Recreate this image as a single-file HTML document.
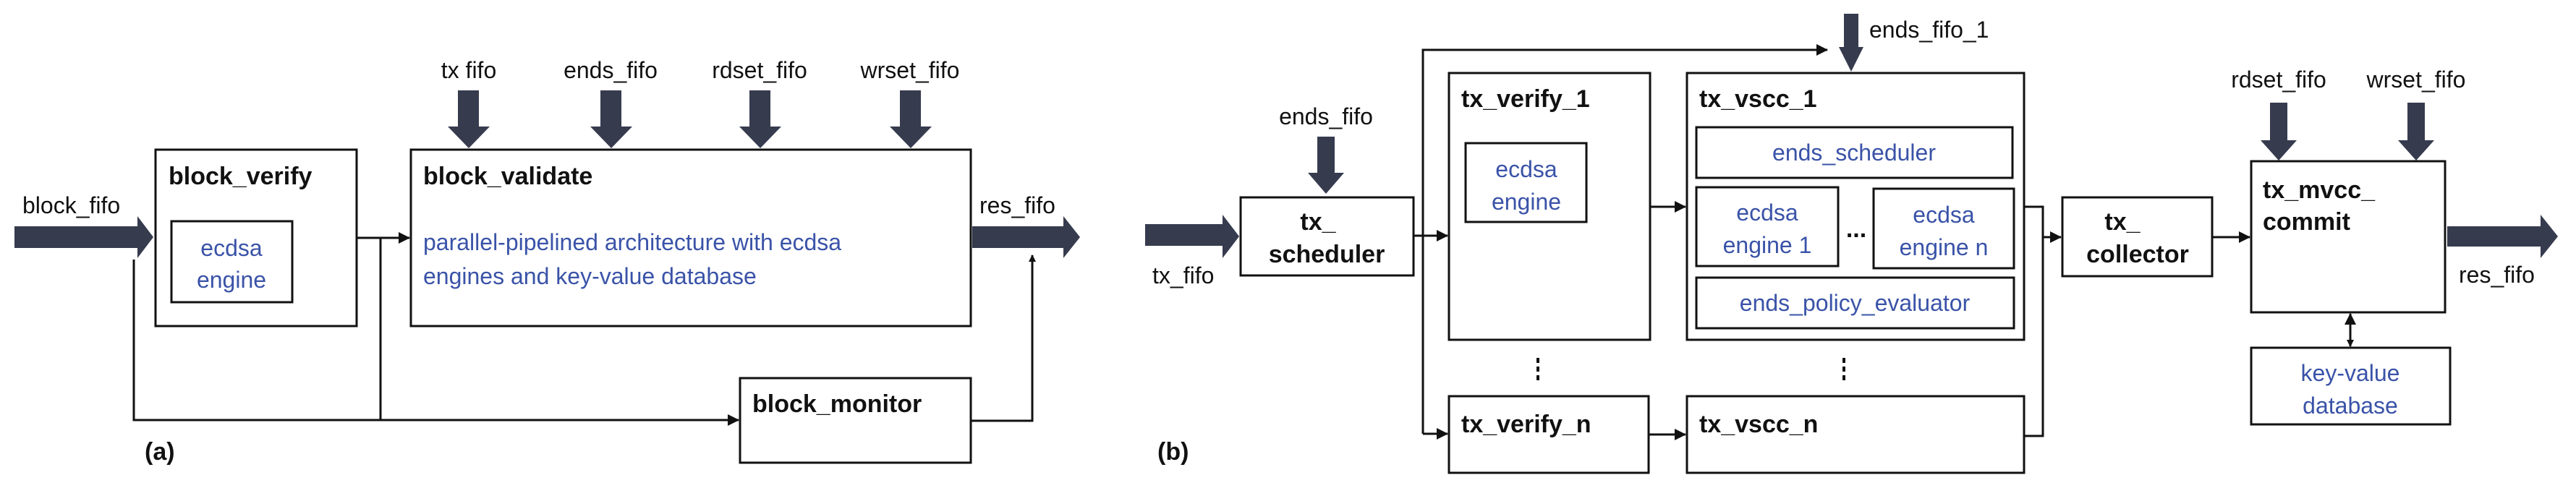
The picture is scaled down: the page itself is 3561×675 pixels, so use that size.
<!DOCTYPE html>
<html><head><meta charset="utf-8"><style>
html,body{margin:0;padding:0;background:#fff;}
svg{display:block;}
text{font-family:"Liberation Sans",Arial,sans-serif;}
.t{font-size:32px;fill:#111;}
.b{font-size:34px;font-weight:bold;fill:#111;}
.u{font-size:32px;fill:#3a53a8;}
.bx{fill:#fff;stroke:#111;stroke-width:3;}
.ln{fill:none;stroke:#111;stroke-width:3;}
.fa{fill:#363b4e;}
</style></head><body>
<svg width="3561" height="675" viewBox="0 0 3561 675" xmlns="http://www.w3.org/2000/svg">
<defs>
<marker id="ah" markerWidth="10" markerHeight="10" refX="9" refY="5" orient="auto" markerUnits="userSpaceOnUse" viewBox="0 0 10 10"><path d="M0,0 L10,5 L0,10 z" fill="#111"/></marker>
<marker id="ah2" markerWidth="16" markerHeight="16" refX="15" refY="8" orient="auto" markerUnits="userSpaceOnUse" viewBox="0 0 16 16"><path d="M0,0 L16,8 L0,16 z" fill="#111"/></marker>
<marker id="as" markerWidth="16" markerHeight="16" refX="1" refY="8" orient="auto" markerUnits="userSpaceOnUse" viewBox="0 0 16 16"><path d="M16,0 L0,8 L16,16 z" fill="#111"/></marker>
</defs>

<!-- (a) -->
<polygon class="fa" points="20,313 190,313 190,299 212,328 190,357 190,343 20,343"/>
<text class="t" x="31" y="295">block_fifo</text>
<rect class="bx" x="215" y="207" width="278" height="244"/>
<text class="b" x="233" y="255">block_verify</text>
<rect class="bx" x="237" y="306" width="167" height="112"/>
<text class="u" x="320" y="354" text-anchor="middle">ecdsa</text>
<text class="u" x="320" y="398" text-anchor="middle">engine</text>

<rect class="bx" x="568" y="207" width="774" height="244"/>
<text class="b" x="585" y="255">block_validate</text>
<text class="u" x="585" y="346">parallel-pipelined architecture with ecdsa</text>
<text class="u" x="585" y="393">engines and key-value database</text>

<g>
<text class="t" x="648" y="108" text-anchor="middle">tx fifo</text>
<text class="t" x="844" y="108" text-anchor="middle">ends_fifo</text>
<text class="t" x="1050" y="108" text-anchor="middle">rdset_fifo</text>
<text class="t" x="1258" y="108" text-anchor="middle">wrset_fifo</text>
<polygon class="fa" points="633,125 662,125 662,175 677,175 648,205 619,175 633,175"/>
<polygon class="fa" points="830,125 859,125 859,175 874,175 845,205 816,175 830,175"/>
<polygon class="fa" points="1036,125 1065,125 1065,175 1080,175 1051,205 1022,175 1036,175"/>
<polygon class="fa" points="1244,125 1273,125 1273,175 1288,175 1259,205 1230,175 1244,175"/>
</g>

<polygon class="fa" points="1344,313 1470,313 1470,299 1493,328 1470,357 1470,343 1344,343"/>
<text class="t" x="1354" y="295">res_fifo</text>

<line class="ln" x1="493" y1="329" x2="566" y2="329" marker-end="url(#ah2)"/>
<polyline class="ln" points="526,329 526,581"/>
<polyline class="ln" points="185,359 185,581 1021,581" marker-end="url(#ah2)"/>
<rect class="bx" x="1023" y="523" width="319" height="117"/>
<text class="b" x="1040" y="570">block_monitor</text>
<polyline class="ln" points="1342,582 1427,582 1427,353" marker-end="url(#ah)"/>
<text class="b" x="200" y="636">(a)</text>

<!-- (b) -->
<polygon class="fa" points="1583,310 1690,310 1690,297 1713,327 1690,357 1690,340 1583,340"/>
<text class="t" x="1593" y="392">tx_fifo</text>
<text class="t" x="1833" y="172" text-anchor="middle">ends_fifo</text>
<polygon class="fa" points="1821,189 1845,189 1845,239 1858,239 1833,268 1808,239 1821,239"/>
<rect class="bx" x="1715" y="273" width="239" height="108"/>
<text class="b" x="1822" y="318" text-anchor="middle">tx_</text>
<text class="b" x="1834" y="363" text-anchor="middle">scheduler</text>

<line class="ln" x1="1954" y1="326" x2="2001" y2="326" marker-end="url(#ah2)"/>
<polyline class="ln" points="1967,600 1967,69 2526,69" marker-end="url(#ah2)"/>
<line class="ln" x1="1967" y1="600" x2="2001" y2="600" marker-end="url(#ah2)"/>

<polygon class="fa" points="2549,19 2569,19 2569,65 2576,65 2559,99 2542,65 2549,65"/>
<text class="t" x="2584" y="52">ends_fifo_1</text>

<rect class="bx" x="2003" y="101" width="278" height="369"/>
<text class="b" x="2020" y="148">tx_verify_1</text>
<rect class="bx" x="2026" y="198" width="167" height="109"/>
<text class="u" x="2110" y="245" text-anchor="middle">ecdsa</text>
<text class="u" x="2110" y="290" text-anchor="middle">engine</text>

<rect class="bx" x="2332" y="101" width="466" height="369"/>
<text class="b" x="2349" y="148">tx_vscc_1</text>
<rect class="bx" x="2345" y="176" width="437" height="70"/>
<text class="u" x="2563" y="222" text-anchor="middle">ends_scheduler</text>
<rect class="bx" x="2345" y="259" width="196" height="109"/>
<text class="u" x="2443" y="305" text-anchor="middle">ecdsa</text>
<text class="u" x="2443" y="350" text-anchor="middle">engine 1</text>
<text class="b" x="2566" y="328" text-anchor="middle">...</text>
<rect class="bx" x="2590" y="261" width="194" height="110"/>
<text class="u" x="2687" y="308" text-anchor="middle">ecdsa</text>
<text class="u" x="2687" y="353" text-anchor="middle">engine n</text>
<rect class="bx" x="2345" y="384" width="439" height="70"/>
<text class="u" x="2564" y="430" text-anchor="middle">ends_policy_evaluator</text>

<line class="ln" x1="2281" y1="286" x2="2330" y2="286" marker-end="url(#ah2)"/>
<line class="ln" x1="2279" y1="601" x2="2330" y2="601" marker-end="url(#ah2)"/>

<g fill="#111">
<rect x="2124" y="495" width="4" height="7"/><rect x="2124" y="507" width="4" height="7"/><rect x="2124" y="519" width="4" height="7"/>
<rect x="2547" y="495" width="4" height="7"/><rect x="2547" y="507" width="4" height="7"/><rect x="2547" y="519" width="4" height="7"/>
</g>

<rect class="bx" x="2003" y="548" width="276" height="106"/>
<text class="b" x="2020" y="598">tx_verify_n</text>
<rect class="bx" x="2332" y="548" width="466" height="106"/>
<text class="b" x="2349" y="598">tx_vscc_n</text>

<polyline class="ln" points="2798,286 2824,286 2824,603 2798,603"/>
<line class="ln" x1="2824" y1="328" x2="2849" y2="328" marker-end="url(#ah2)"/>

<rect class="bx" x="2851" y="273" width="207" height="109"/>
<text class="b" x="2934" y="318" text-anchor="middle">tx_</text>
<text class="b" x="2955" y="363" text-anchor="middle">collector</text>
<line class="ln" x1="3058" y1="328" x2="3110" y2="328" marker-end="url(#ah2)"/>

<text class="t" x="3150" y="121" text-anchor="middle">rdset_fifo</text>
<text class="t" x="3340" y="121" text-anchor="middle">wrset_fifo</text>
<polygon class="fa" points="3138,142 3162,142 3162,194 3175,194 3150,222 3125,194 3138,194"/>
<polygon class="fa" points="3328,142 3352,142 3352,194 3365,194 3340,222 3315,194 3328,194"/>

<rect class="bx" x="3112" y="223" width="268" height="209"/>
<text class="b" x="3128" y="274">tx_mvcc_</text>
<text class="b" x="3128" y="318">commit</text>

<polygon class="fa" points="3383,313 3512,313 3512,297 3536,327 3512,357 3512,341 3383,341"/>
<text class="t" x="3399" y="391">res_fifo</text>

<line class="ln" x1="3249" y1="434" x2="3249" y2="479" marker-end="url(#ah)" marker-start="url(#as)"/>
<rect class="bx" x="3112" y="481" width="275" height="106"/>
<text class="u" x="3249" y="527" text-anchor="middle">key-value</text>
<text class="u" x="3249" y="572" text-anchor="middle">database</text>

<text class="b" x="1600" y="636">(b)</text>
</svg>
</body></html>
